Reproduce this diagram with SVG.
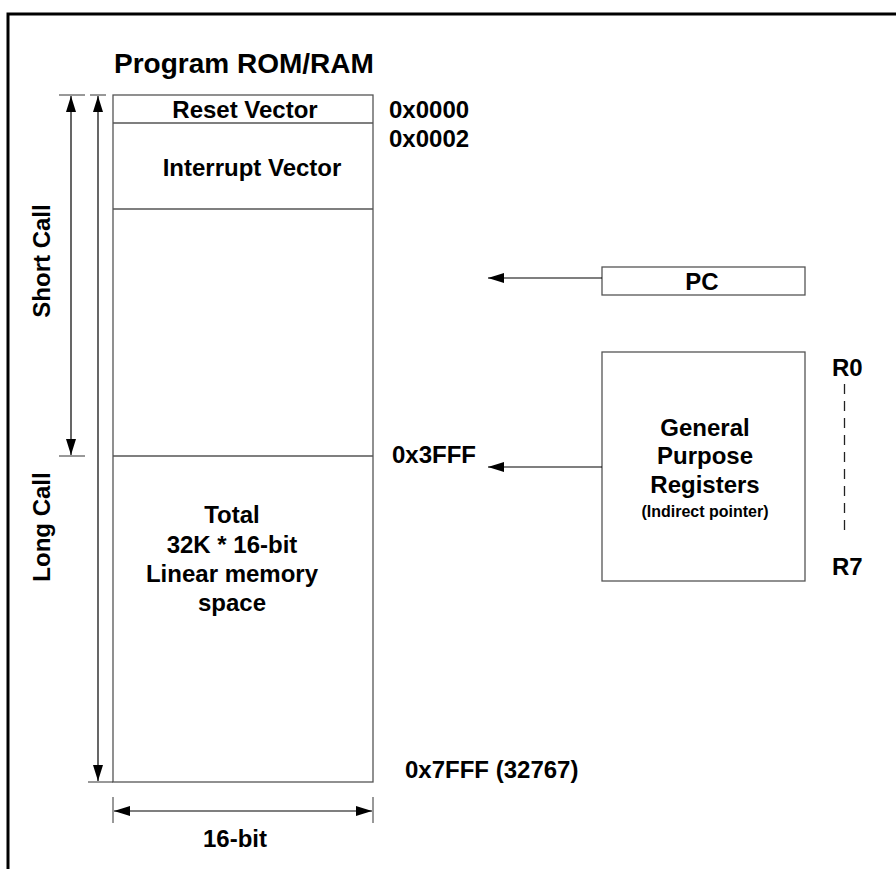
<svg xmlns="http://www.w3.org/2000/svg" width="896" height="869" viewBox="0 0 896 869">
<defs>
<style>
text{font-family:"Liberation Sans",Arial,sans-serif;font-weight:bold;fill:#000}
.t16{font-size:24px}
.t20{font-size:28px}
.t12{font-size:16px}
.c{text-anchor:middle}
.box{fill:none;stroke:#555;stroke-width:1.3}
.ln{stroke:#000;stroke-width:1.2;fill:none}
.tk{stroke:#333;stroke-width:1;fill:none}
</style>
<marker id="ah" viewBox="0 0 16 10" refX="16" refY="5" markerWidth="16" markerHeight="10" markerUnits="userSpaceOnUse" orient="auto-start-reverse">
<path d="M0,0 L16,5 L0,10 z" fill="#000"/>
</marker>
</defs>
<rect width="896" height="869" fill="#fff"/>
<path d="M8,869 V14 H896" fill="none" stroke="#000" stroke-width="3"/>
<g id="title"><text class="t20" x="114" y="73">Program ROM/RAM</text></g>
<g id="memory">
<rect class="box" x="113" y="95" width="260" height="687"/>
<line class="box" x1="113" y1="123" x2="373" y2="123"/>
<line class="box" x1="113" y1="209" x2="373" y2="209"/>
<line class="box" x1="113" y1="456" x2="373" y2="456"/>
<text class="t16 c" x="245" y="118">Reset Vector</text>
<text class="t16 c" x="252" y="176">Interrupt Vector</text>
<text class="t16 c" x="232" y="523">Total</text>
<text class="t16 c" x="232" y="553">32K * 16-bit</text>
<text class="t16 c" x="232" y="582">Linear memory</text>
<text class="t16 c" x="232" y="611">space</text>
</g>
<g id="addresses">
<text class="t16" x="389" y="118">0x0000</text>
<text class="t16" x="389" y="147">0x0002</text>
<text class="t16" x="392" y="463">0x3FFF</text>
<text class="t16" x="405" y="778">0x7FFF (32767)</text>
</g>
<g id="pc">
<rect class="box" x="602" y="267" width="203" height="28"/>
<text class="t16 c" x="702" y="290">PC</text>
</g>
<g id="gpr">
<rect class="box" x="602" y="352" width="203" height="229"/>
<text class="t16 c" x="705" y="436">General</text>
<text class="t16 c" x="705" y="464">Purpose</text>
<text class="t16 c" x="705" y="493">Registers</text>
<text class="t12 c" x="705" y="517">(Indirect pointer)</text>
</g>
<g id="regs">
<text class="t16" x="832" y="376">R0</text>
<text class="t16" x="832" y="575">R7</text>
<line x1="844.5" y1="384" x2="844.5" y2="530" stroke="#222" stroke-width="1.3" stroke-dasharray="10,7"/>
</g>
<g id="side-labels">
<text class="t16 c" transform="translate(50,261) rotate(-90)">Short Call</text>
<text class="t16 c" transform="translate(50,527) rotate(-90)">Long Call</text>
<text class="t16 c" x="235" y="847">16-bit</text>
</g>
<g id="connectors">
<line class="tk" x1="59" y1="95" x2="85" y2="95"/>
<line class="tk" x1="59" y1="456" x2="85" y2="456"/>
<line class="tk" x1="90" y1="95" x2="106" y2="95"/>
<line class="tk" x1="88" y1="782" x2="113" y2="782"/>
<line class="ln" x1="71" y1="96" x2="71" y2="455" marker-start="url(#ah)" marker-end="url(#ah)"/>
<line class="ln" x1="98" y1="96" x2="98" y2="781" marker-start="url(#ah)" marker-end="url(#ah)"/>
<line class="tk" x1="113" y1="797" x2="113" y2="823"/>
<line class="tk" x1="373" y1="797" x2="373" y2="823"/>
<line class="ln" x1="114" y1="811" x2="372" y2="811" marker-start="url(#ah)" marker-end="url(#ah)"/>
<line class="ln" x1="602" y1="278" x2="488" y2="278" marker-end="url(#ah)"/>
<line class="ln" x1="602" y1="467" x2="488" y2="467" marker-end="url(#ah)"/>
</g>
</svg>
